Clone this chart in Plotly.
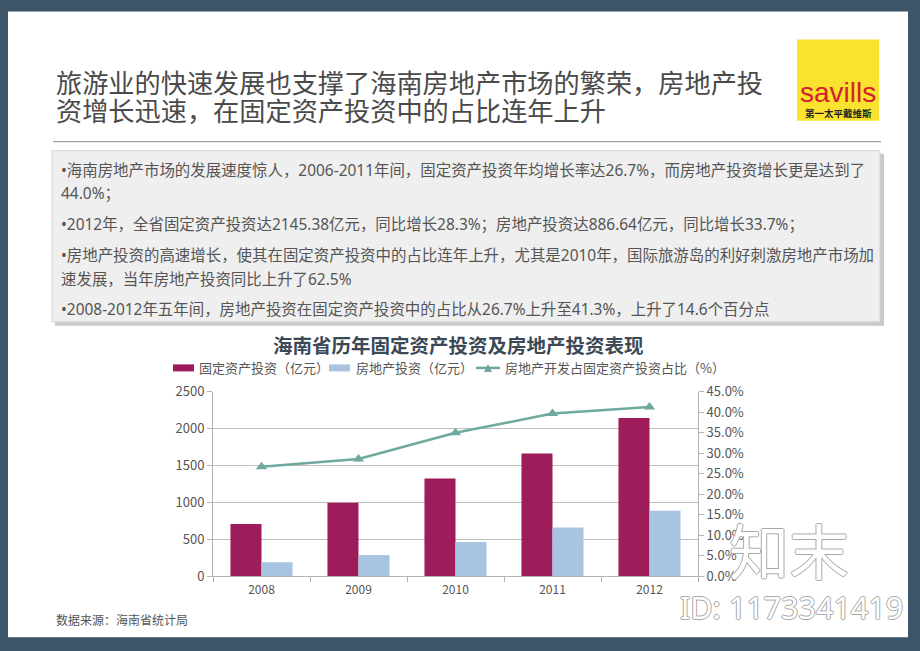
import plotly.graph_objects as go

# ---------------- data ----------------
years = ["2008", "2009", "2010", "2011", "2012"]
fixed_inv = [705.4, 995.0, 1325.0, 1665.0, 2145.38]      # 固定资产投资（亿元）
re_inv = [188.0, 285.0, 464.0, 661.0, 886.64]            # 房地产投资（亿元）
re_share = [26.7, 28.6, 35.0, 39.7, 41.3]                # 占比（%）
y1_ticks = [0, 500, 1000, 1500, 2000, 2500]
y2_ticks = [0, 5, 10, 15, 20, 25, 30, 35, 40, 45]
y2_labels = [f"{v:.1f}%" for v in y2_ticks]

title_lines = ["旅游业的快速发展也支撑了海南房地产市场的繁荣，房地产投",
               "资增长迅速，在固定资产投资中的占比连年上升"]
bullet_lines = [
    "•海南房地产市场的发展速度惊人，2006-2011年间，固定资产投资年均增长率达26.7%，而房地产投资增长更是达到了",
    "44.0%；",
    "•2012年，全省固定资产投资达2145.38亿元，同比增长28.3%；房地产投资达886.64亿元，同比增长33.7%；",
    "•房地产投资的高速增长，使其在固定资产投资中的占比连年上升，尤其是2010年，国际旅游岛的利好刺激房地产市场加",
    "速发展，当年房地产投资同比上升了62.5%",
    "•2008-2012年五年间，房地产投资在固定资产投资中的占比从26.7%上升至41.3%，上升了14.6个百分点",
]
bullet_y = [170, 193, 224, 255, 279, 309]
chart_title = "海南省历年固定资产投资及房地产投资表现"
legend_names = ["固定资产投资（亿元）", "房地产投资（亿元）", "房地产开发占固定资产投资占比（%）"]
source_text = "数据来源：海南省统计局"

# ---------------- styling ----------------
W, H = 920, 651
CJK = "Noto Sans CJK SC, Noto Sans, sans-serif"
MIX = "Noto Sans, Noto Sans CJK SC, sans-serif"
MAROON = "#9e1c5a"
LBLUE = "#a9c4e1"
TEAL = "#6fa99e"
AXIS = "#b3b3b3"
TXT = "#555555"


def px(x):
    return x / W


def py(y):
    # vertical placement helper (pixel row from top -> paper fraction)
    yy = (y - 10.4) / 0.97
    return 1 - yy / H


fig = go.Figure()
fig.add_bar(x=years, y=fixed_inv, name=legend_names[0], marker=dict(color=MAROON, line=dict(width=0)))
fig.add_bar(x=years, y=re_inv, name=legend_names[1], marker=dict(color=LBLUE, line=dict(width=0)))
fig.add_scatter(x=years, y=re_share, name=legend_names[2], yaxis="y2", mode="lines+markers",
                line=dict(color=TEAL, width=2.5),
                marker=dict(symbol="triangle-up", size=10, color=TEAL))

shapes = [
    # white slide panel
    dict(type="rect", xref="paper", yref="paper", x0=px(8), x1=px(908), y0=py(637), y1=py(12),
         fillcolor="white", line=dict(width=0), layer="below"),
    # divider under title
    dict(type="line", xref="paper", yref="paper", x0=px(53), x1=px(881), y0=py(142), y1=py(142),
         line=dict(color="#8a8a8a", width=1), layer="below"),
    # text box shadow
    dict(type="rect", xref="paper", yref="paper", x0=px(55), x1=px(884), y0=py(326), y1=py(154),
         fillcolor="#c9c9c9", line=dict(width=0), layer="below"),
    # text box
    dict(type="rect", xref="paper", yref="paper", x0=px(52), x1=px(880), y0=py(322), y1=py(151),
         fillcolor="#efefef", line=dict(color="#d4d4d4", width=1), layer="below"),
    # savills logo box
    dict(type="rect", xref="paper", yref="paper", x0=px(797), x1=px(879), y0=py(121), y1=py(40),
         fillcolor="#fae22e", line=dict(width=0), layer="below"),
    # custom legend keys
    dict(type="rect", xref="paper", yref="paper", x0=px(173), x1=px(194), y0=py(371.5), y1=py(364.5),
         fillcolor=MAROON, line=dict(width=0)),
    dict(type="rect", xref="paper", yref="paper", x0=px(329), x1=px(350), y0=py(371.5), y1=py(364.5),
         fillcolor=LBLUE, line=dict(width=0)),
    dict(type="line", xref="paper", yref="paper", x0=px(476), x1=px(500), y0=py(368), y1=py(368),
         line=dict(color=TEAL, width=2.5)),
    dict(type="path", xref="paper", yref="paper",
         path=f"M {px(484)} {py(372)} L {px(492)} {py(372)} L {px(488)} {py(364)} Z",
         fillcolor=TEAL, line=dict(width=0)),
]

ann = []
for i, t in enumerate(title_lines):
    ann.append(dict(text=t, x=px(54), y=py([82, 110][i]), xanchor="left", yanchor="middle",
                    font=dict(family=CJK, size=26.2, color="#4a4a4a")))
for t, yy in zip(bullet_lines, bullet_y):
    ann.append(dict(text=t, x=px(59), y=py(yy), xanchor="left", yanchor="middle",
                    font=dict(family=MIX, size=15.45, color=TXT)))
ann.append(dict(text=f"<b>{chart_title}</b>", x=px(458), y=py(345), xanchor="center", yanchor="middle",
                font=dict(family=CJK, size=19.5, color="#3a4955")))
for t, xx in zip(legend_names, [197, 354, 503]):
    ann.append(dict(text=t, x=px(xx), y=py(368), xanchor="left", yanchor="middle",
                    font=dict(family=CJK, size=13, color=TXT)))
ann.append(dict(text=source_text, x=px(54), y=py(619), xanchor="left", yanchor="middle",
                font=dict(family=CJK, size=12, color=TXT)))
# logo text
ann.append(dict(text="savills", x=px(838), y=py(93), xanchor="center", yanchor="middle",
                font=dict(family="Liberation Sans, Arial, sans-serif", size=28, color="#d2232a")))
ann.append(dict(text="<b>第一太平戴维斯</b>", x=px(838), y=py(113), xanchor="center", yanchor="middle",
                font=dict(family=CJK, size=9.5, color="#222222")))
# watermarks
outline = "1px 0 #a8a8a8, -1px 0 #a8a8a8, 0 1px #a8a8a8, 0 -1px #a8a8a8"
ann.append(dict(text="知末", x=px(789), y=py(548), xanchor="center", yanchor="middle",
                font=dict(family=CJK, size=60, color="white", shadow=outline)))
ann.append(dict(text="ID: 1173341419", x=px(791), y=py(607), xanchor="center", yanchor="middle",
                font=dict(family="Noto Sans, sans-serif", size=30.5, color="white", shadow=outline)))
for a in ann:
    a.update(xref="paper", yref="paper", showarrow=False)

fig.update_layout(
    width=W, height=H,
    margin=dict(l=0, r=0, t=0, b=0),
    paper_bgcolor="#3d5569",
    plot_bgcolor="white",
    showlegend=False,
    barmode="group", bargap=0.36, bargroupgap=0,
    shapes=shapes, annotations=ann,
    xaxis=dict(domain=[px(213), px(698)], showline=True, linecolor=AXIS, linewidth=1,
               ticks="outside", tickson="boundaries", ticklen=5, tickcolor=AXIS,
               ticklabelstandoff=3,
               tickfont=dict(family=CJK, size=12, color=TXT), showgrid=False),
    yaxis=dict(domain=[py(576), py(392)], range=[0, 2500], tickvals=y1_ticks,
               showgrid=True, gridcolor="#bfbfbf", gridwidth=1,
               showline=True, linecolor=AXIS, linewidth=1, ticks="outside", ticklen=5, tickcolor=AXIS,
               tickfont=dict(family=CJK, size=13, color=TXT), zeroline=False),
    yaxis2=dict(overlaying="y", side="right", range=[0, 45], tickvals=y2_ticks, ticktext=y2_labels,
                showgrid=False, showline=True, linecolor=AXIS, linewidth=1, ticks="outside", ticklen=5,
                tickcolor=AXIS, tickfont=dict(family=CJK, size=13, color=TXT), zeroline=False),
)

fig.write_html("out.html", config={"displayModeBar": False},
               post_script="document.body.style.margin='0px';document.body.style.overflow='hidden';")
